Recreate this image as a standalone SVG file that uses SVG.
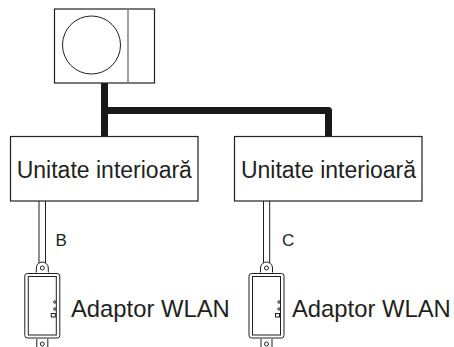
<svg xmlns="http://www.w3.org/2000/svg" width="454" height="347" viewBox="0 0 454 347">
<style>
.b{fill:#fff;stroke:#231f20;stroke-width:1.2}
.t{font-family:"Liberation Sans",Arial,sans-serif;fill:#231f20}
.big{font-size:23px}
.ad{font-size:23.800px}
.small{font-size:17px}
.th{fill:none;stroke:#231f20;stroke-width:1}
.pipe{fill:none;stroke:#1a1718;stroke-width:7}
</style>
<defs>
<g id="ad">
<path class="th" d="M-6 8.500V4a6 6 0 0 1 12 0V8.500"/>
<circle class="th" cx="0" cy="4" r="2"/>
<rect class="th" x="-17.500" y="9.500" width="35" height="64.500" rx="2.500"/>
<rect class="th" x="-14" y="12.500" width="28" height="58.500"/>
<circle cx="12.500" cy="38" r="1.200" class="th" stroke-width=".7"/>
<circle cx="12.500" cy="45" r="1.200" class="th" stroke-width=".7"/>
<rect x="9" y="49.500" width="4" height="3.500" class="th" stroke-width=".7"/>
<path class="th" d="M-5.500 75V83M5.500 75V83"/>
<circle class="th" cx="0" cy="80" r="2"/>
</g>
</defs>
<g id="connectors">
<path class="pipe" d="M104.500 83V136"/>
<path class="pipe" d="M104.500 110.500H328.500V136" stroke-linejoin="round"/>
<path class="th" d="M39 201V263M45.500 201V263M263.500 201V263M269.700 201V263"/>
</g>
<g id="outdoor">
<rect class="b" x="54.500" y="9" width="100" height="74"/>
<path d="M128 9V83" stroke="#808080" stroke-width="1.500"/>
<circle cx="91.500" cy="45" r="29" class="th"/>
</g>
<g id="indoor-1">
<rect class="b" x="10.500" y="136.500" width="187.500" height="64.500"/>
<text class="t big" x="104.300" y="178" text-anchor="middle">Unitate interioară</text>
</g>
<g id="indoor-2">
<rect class="b" x="234.500" y="136.500" width="187.500" height="64.500"/>
<text class="t big" x="328.500" y="178" text-anchor="middle">Unitate interioară</text>
</g>
<g id="label-b"><text class="t small" x="55.500" y="245.500">B</text></g>
<g id="label-c"><text class="t small" x="282" y="245.500">C</text></g>
<g id="adapter-1">
<use href="#ad" x="42.300" y="264"/>
<text class="t ad" x="71" y="316.500">Adaptor WLAN</text>
</g>
<g id="adapter-2">
<use href="#ad" x="266.500" y="264"/>
<text class="t ad" x="292" y="316.500">Adaptor WLAN</text>
</g>
</svg>
